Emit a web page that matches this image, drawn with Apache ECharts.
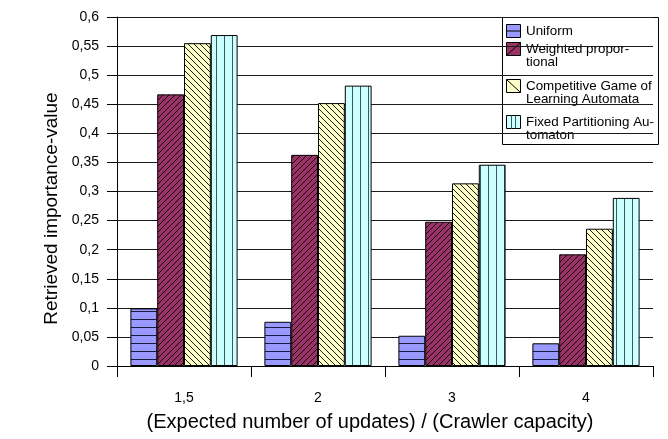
<!DOCTYPE html>
<html>
<head>
<meta charset="utf-8">
<script src="https://cdn.jsdelivr.net/npm/echarts@6/dist/echarts.min.js"></script>
<style>
  html, body { margin: 0; padding: 0; background: #fff; }
  #chart { width: 668px; height: 439px; }
</style>
</head>
<body>
<div id="chart"></div>
<script>
// Crawler scheduling comparison: retrieved importance-value per load ratio
const categories = ['1,5', '2', '3', '4'];
const uniform = [0.099, 0.076, 0.052, 0.039];
const weighted = [0.467, 0.363, 0.248, 0.192];
const competitive = [0.555, 0.452, 0.314, 0.236];
const fixedPartition = [0.569, 0.482, 0.346, 0.289];
const yTickLabels = ['0', '0,05', '0,1', '0,15', '0,2', '0,25', '0,3', '0,35', '0,4', '0,45', '0,5', '0,55', '0,6'];
const seriesNames = ['Uniform', 'Weighted propor-\ntional', 'Competitive Game of\nLearning Automata', 'Fixed Partitioning Au-\ntomaton'];

const FONT = 'Liberation Sans, Arial, sans-serif';

// Hatch tiles drawn pixel by pixel so the lines stay crisp
function tile(w, h, bg, fg, draw) {
  const c = document.createElement('canvas');
  c.width = w; c.height = h;
  const g = c.getContext('2d');
  g.fillStyle = bg; g.fillRect(0, 0, w, h);
  g.fillStyle = fg;
  draw(g, w, h);
  return { image: c, repeat: 'repeat' };
}
const fillUniform = tile(8, 8, '#9999FF', '#1a1a40', (g, w) => g.fillRect(0, 7, w, 1));
const fillWeighted = tile(6, 6, '#993366', '#1a0010', (g, w) => { for (let i = 0; i < w; i++) g.fillRect(i, w - 1 - i, 1, 1); });
const fillCompetitive = tile(6, 6, '#FFFFCC', '#202010', (g, w) => { for (let i = 0; i < w; i++) g.fillRect(i, i, 1, 1); });
const fillFixed = tile(8, 8, '#CCFFFF', '#3a5a5a', (g, w, h) => g.fillRect(0, 0, 1, h));

const fills = [fillUniform, fillWeighted, fillCompetitive, fillFixed];
const values = [uniform, weighted, competitive, fixedPartition];

const chart = echarts.init(document.getElementById('chart'), null, { renderer: 'canvas' });

// Legend box with multi-line entries
const legendX = 502, legendY = 17;
const legendRows = [
  { y: 24, lines: 1 },
  { y: 42, lines: 2 },
  { y: 79, lines: 2 },
  { y: 115, lines: 2 }
];
const iconDecor = [
  (x, y) => [{ type: 'line', shape: { x1: x, y1: y + 6.5, x2: x + 14, y2: y + 6.5 }, style: { stroke: '#000', lineWidth: 1 } }],
  (x, y) => [{ type: 'line', shape: { x1: x, y1: y + 13, x2: x + 14, y2: y }, style: { stroke: '#000', lineWidth: 1 } }],
  (x, y) => [{ type: 'line', shape: { x1: x, y1: y, x2: x + 14, y2: y + 13 }, style: { stroke: '#000', lineWidth: 1 } }],
  (x, y) => [
    { type: 'line', shape: { x1: x + 5, y1: y, x2: x + 5, y2: y + 13 }, style: { stroke: '#3a5a5a', lineWidth: 1 } },
    { type: 'line', shape: { x1: x + 9, y1: y, x2: x + 9, y2: y + 13 }, style: { stroke: '#3a5a5a', lineWidth: 1 } }
  ]
];
const legendColors = ['#9999FF', '#993366', '#FFFFCC', '#CCFFFF'];
const legendChildren = [{
  type: 'rect',
  shape: { x: legendX + 0.5, y: legendY + 0.5, width: 156, height: 127 },
  style: { fill: '#fff', stroke: '#000', lineWidth: 1 }
}];
legendRows.forEach((row, i) => {
  const ix = 506.5, iy = row.y + 0.5;
  legendChildren.push({
    type: 'rect',
    shape: { x: ix, y: iy, width: 14, height: 13 },
    style: { fill: legendColors[i], stroke: '#000', lineWidth: 1 }
  });
  iconDecor[i](ix, iy).forEach(el => legendChildren.push(el));
  legendChildren.push({
    type: 'text',
    x: 526, y: row.y + 0.5,
    style: { text: seriesNames[i], font: '13.4px ' + FONT, fill: '#000', lineHeight: 13.5, verticalAlign: 'top' }
  });
});

chart.setOption({
  animation: false,
  backgroundColor: '#fff',
  grid: { left: 117, right: 15, top: 17, bottom: 73, containLabel: false },
  xAxis: {
    type: 'category',
    data: categories,
    name: '(Expected number of updates) / (Crawler capacity)',
    nameLocation: 'middle',
    nameGap: 46,
    nameTextStyle: { fontFamily: FONT, fontSize: 20, color: '#000', padding: [0, 30, 0, 0] },
    axisLine: { lineStyle: { color: '#000', width: 1 } },
    axisTick: { show: true, length: 11, lineStyle: { color: '#000' } },
    axisLabel: { fontFamily: FONT, fontSize: 14, color: '#000', margin: 25 },
    splitLine: { show: false }
  },
  yAxis: {
    type: 'value',
    min: 0, max: 0.6, interval: 0.05,
    name: 'Retrieved importance-value',
    nameLocation: 'middle',
    nameGap: 56,
    nameTextStyle: { fontFamily: FONT, fontSize: 19, color: '#000', padding: [0, 34, 0, 0] },
    axisLine: { show: true, lineStyle: { color: '#000', width: 1 } },
    axisTick: { show: true, length: 10, lineStyle: { color: '#000' } },
    axisLabel: {
      fontFamily: FONT, fontSize: 14, color: '#000', margin: 18,
      formatter: v => yTickLabels[Math.round(v / 0.05)]
    },
    splitLine: { show: true, lineStyle: { color: '#1a1a1a', width: 1 } }
  },
  series: values.map((vals, i) => ({
    name: seriesNames[i],
    type: 'bar',
    data: vals,
    barGap: '0%',
    barCategoryGap: '20%',
    itemStyle: { color: fills[i], borderColor: '#000', borderWidth: 1 }
  })),
  graphic: [{ type: 'group', children: legendChildren }]
});
</script>
</body>
</html>
